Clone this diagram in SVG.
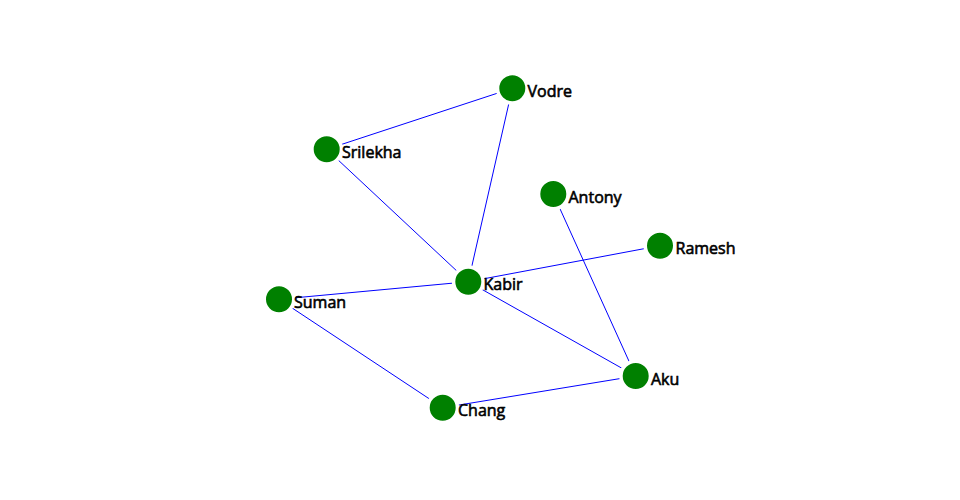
<svg xmlns="http://www.w3.org/2000/svg" width="960" height="500" viewBox="0 0 960 500">
<style>
.edge{stroke:#0000ff;stroke-width:1;fill:none}
.node circle{fill:#008000;stroke:#ffffff;stroke-width:3.5}
.node text{font-family:"Open Sans","Noto Sans",sans-serif;font-size:16px;font-weight:400;fill:#000;stroke:#000;stroke-width:0.6}
</style>
<rect width="960" height="500" fill="#ffffff"/>
<g id="edges">
<line class="edge" x1="326.7" y1="149.3" x2="512.3" y2="88.3"/>
<line class="edge" x1="512.3" y1="88.3" x2="468.3" y2="281.7"/>
<line class="edge" x1="326.7" y1="149.3" x2="468.3" y2="281.7"/>
<line class="edge" x1="468.3" y1="281.7" x2="660" y2="245.7"/>
<line class="edge" x1="468.3" y1="281.7" x2="279" y2="299.3"/>
<line class="edge" x1="468.3" y1="281.7" x2="635.7" y2="376"/>
<line class="edge" x1="553.3" y1="194" x2="635.7" y2="376"/>
<line class="edge" x1="279" y1="299.3" x2="442.7" y2="407.7"/>
<line class="edge" x1="442.7" y1="407.7" x2="635.7" y2="376"/>
</g>
<g id="node-vodre" class="node"><circle cx="512.3" cy="88.3" r="14.75"/><text x="527.5" y="96.8">Vodre</text></g>
<g id="node-srilekha" class="node"><circle cx="326.7" cy="149.3" r="14.75"/><text x="342" y="157.8">Srilekha</text></g>
<g id="node-antony" class="node"><circle cx="553.3" cy="194" r="14.75"/><text x="568.5" y="202.5">Antony</text></g>
<g id="node-ramesh" class="node"><circle cx="660" cy="245.7" r="14.75"/><text x="675.5" y="254.2">Ramesh</text></g>
<g id="node-kabir" class="node"><circle cx="468.3" cy="281.7" r="14.75"/><text x="483.5" y="290.2">Kabir</text></g>
<g id="node-suman" class="node"><circle cx="279" cy="299.3" r="14.75"/><text x="294" y="307.8">Suman</text></g>
<g id="node-aku" class="node"><circle cx="635.7" cy="376" r="14.75"/><text x="651" y="384.5">Aku</text></g>
<g id="node-chang" class="node"><circle cx="442.7" cy="407.7" r="14.75"/><text x="458" y="416.2">Chang</text></g>
</svg>
